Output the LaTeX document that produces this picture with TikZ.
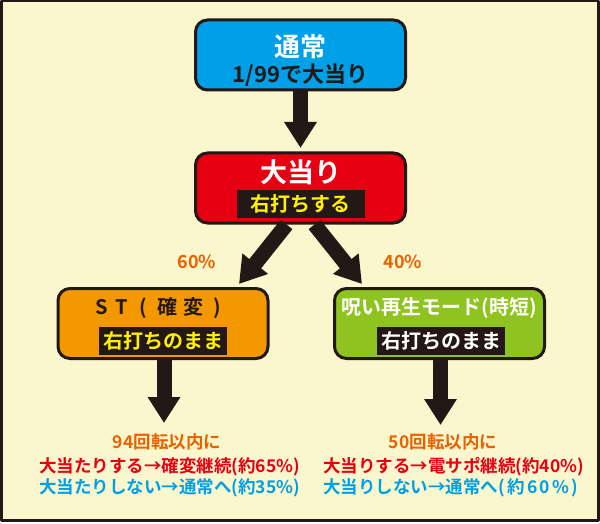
\documentclass[tikz,border=0pt]{standalone}
\usepackage{fontspec}
\setmainfont{Noto Sans CJK JP Bold}
\usetikzlibrary{arrows.meta}
\definecolor{ink}{HTML}{231815}
\definecolor{paper}{HTML}{FAF6CD}
\definecolor{cyanbox}{HTML}{00A0E9}
\definecolor{redbox}{HTML}{E60012}
\definecolor{orangebox}{HTML}{F39800}
\definecolor{greenbox}{HTML}{8FC31F}
\definecolor{hiyellow}{HTML}{FFF100}
\definecolor{pcttext}{HTML}{EB6100}
\definecolor{redtext}{HTML}{E60012}
\definecolor{bluetext}{HTML}{00A0E9}
\newcommand{\wch}[2]{\makebox[#1pt]{#2}}
\newcommand{\gp}{\hspace{2.4pt}}
\begin{document}
\begin{tikzpicture}[x=1pt,y=-1pt,line join=round,
	box/.style={draw=ink,line width=3pt,rounded corners=12pt,minimum width=210pt,minimum height=70pt,inner sep=0pt},
	bar/.style={fill=ink,minimum width=128pt,minimum height=28pt,inner sep=0pt,font=\fontsize{20}{20}\selectfont},
	big/.style={font=\fontsize{26}{26}\selectfont},
	mid/.style={font=\fontsize{20}{20}\selectfont},
	note/.style={font=\fontsize{17.5}{17.5}\selectfont},
	fat/.style={ink,line width=15pt,-{Triangle[width=31pt,length=26pt]}}]
	\useasboundingbox (0,0) rectangle (600,524);
	\fill[white] (0,0) rectangle (600,524);
	\fill[paper] (1,1) rectangle (599,521);
	\draw[ink,line width=2.5pt] (1.25,1.25) rectangle (598.5,520.5);
	% boxes
	\node[box,fill=cyanbox] (normal) at (300.5,55) {};
	\node[box,fill=redbox] (bonus) at (300.5,188) {};
	\node[box,fill=orangebox] (st) at (163,323.5) {};
	\node[box,fill=greenbox] (jitan) at (439.5,323.5) {};
	\node[big,white] (normaltitle) at (300.5,47) {通常};
	\node[font=\fontsize{22}{22}\selectfont,text=ink] (normalsub) at (300.5,75) {1/99で大当り};
	\node[font=\fontsize{27}{27}\selectfont,white] (bonustitle) at (300.5,172) {大当り};
	\node[bar,text=hiyellow] (bonusbar) at (300.5,204) {右打ちする};
	\node[mid,text=ink,inner sep=0pt] (sttitle) at (160,308) {\wch{19}{S}\wch{21}{T}\wch{22}{(}\wch{26}{確}\wch{27}{変}\wch{20}{)}};
	\node[bar,text=hiyellow] (stbar) at (163,341) {右打ちのまま};
	\node[mid,white] (jitantitle) at (439.5,308) {呪い再生モード(時短)};
	\node[bar,text=white] (jitanbar) at (441,341) {右打ちのまま};
	% arrows
	\coordinate (tipL) at (239,284);
	\coordinate (tipR) at (362,284);
	\coordinate (stend) at (164,423);
	\coordinate (jitanend) at (440.5,425);
	\draw[fat,shorten >=3.5pt] (normal.south) -- (bonus.north);
	\draw[fat] ([xshift=-14pt]bonus.south) -- (tipL);
	\draw[fat] ([xshift=14pt]bonus.south) -- (tipR);
	\draw[fat] (st.south -| stend) -- (stend);
	\draw[fat] (jitan.south -| jitanend) -- (jitanend);
	\node[font=\fontsize{18}{18}\selectfont,pcttext] (pctL) at (197,262) {60\%};
	\node[font=\fontsize{18}{18}\selectfont,pcttext] (pctR) at (403,262) {40\%};
	% results
	\node[note,pcttext] (sthead) at (167,442) {94回転以内に};
	\node[note,redtext,anchor=west,inner sep=0pt] (sthit) at (39,467) {大当たりする→確変継続(約65\%)};
	\node[note,bluetext,anchor=west,inner sep=0pt] (stmiss) at (39,488) {大当たりしない→通常へ(約35\%)};
	\node[note,pcttext] (jitanhead) at (443,442) {50回転以内に};
	\node[note,redtext,anchor=west,inner sep=0pt] (jitanhit) at (323,467) {大当りする→電サポ継続(約40\%)};
	\node[note,bluetext,anchor=west,inner sep=0pt] (jitanmiss) at (323,488) {大当りしない→通常へ(\gp 約\gp 6\gp 0\gp\%\gp)};
\end{tikzpicture}
\end{document}
